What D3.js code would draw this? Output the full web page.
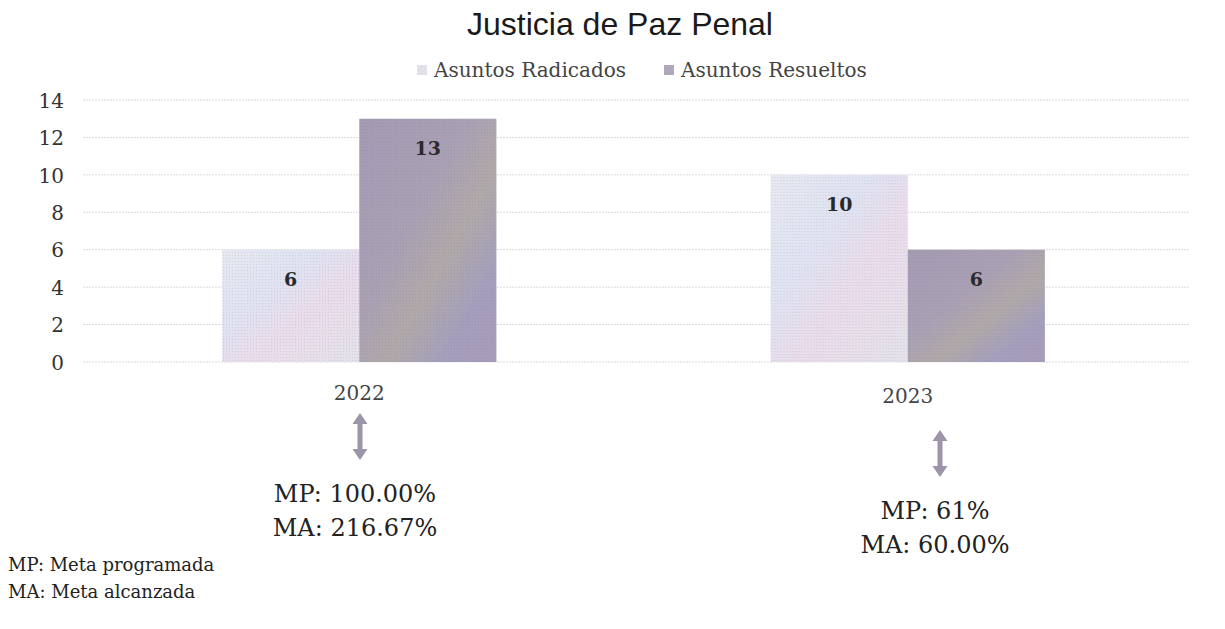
<!DOCTYPE html>
<html>
<head>
<meta charset="utf-8">
<script src="https://cdn.jsdelivr.net/npm/d3@7"></script>
<style>
  body { margin: 0; background: #fff; }
  svg { display: block; }
  .serif { font-family: "DejaVu Serif", serif; }
  .tick-label { font-family: "DejaVu Serif", serif; font-size: 20px; fill: #333; }
  .grid line { stroke: #dadada; stroke-dasharray: 2 1; }
</style>
</head>
<body>
<svg id="chart" width="1225" height="629"></svg>
<script>
const categories = ["2022", "2023"];
const seriesNames = ["Asuntos Radicados", "Asuntos Resueltos"];
const radicados = [6, 10];
const resueltos = [13, 6];
const mpLabels = ["MP: 100.00%", "MP: 61%"];
const maLabels = ["MA: 216.67%", "MA: 60.00%"];
const yTicks = [0, 2, 4, 6, 8, 10, 12, 14];
const notes = ["MP: Meta programada", "MA: Meta alcanzada"];

// where the annotation boxes sit (they are loose text boxes in the original)
const annX = [355, 935];
const arrowTop = [413, 430];
const mpBase = [502, 519];

const svg = d3.select("#chart");
const defs = svg.append("defs");

function addGradient(id, stops) {
  const g = defs.append("linearGradient").attr("id", id)
    .attr("x1", "0%").attr("y1", "0%").attr("x2", "100%").attr("y2", "100%");
  stops.forEach(([o, c]) => g.append("stop").attr("offset", o).attr("stop-color", c));
}
addGradient("gradRad", [["0%", "#e6e9f0"], ["35%", "#dfe3f2"], ["60%", "#eadcea"], ["100%", "#e3e2ea"]]);
addGradient("gradRes", [["0%", "#a39bb3"], ["40%", "#a9a0b4"], ["60%", "#b0a9a8"], ["80%", "#a59fbd"], ["100%", "#a89cb8"]]);

// dotted texture on top of bars, like the scan
const pat = defs.append("pattern").attr("id", "dots")
  .attr("width", 3).attr("height", 3).attr("patternUnits", "userSpaceOnUse");
pat.append("rect").attr("width", 1).attr("height", 1).attr("fill", "rgba(120,110,140,0.18)");

const y = d3.scaleLinear().domain([0, 14]).range([362, 100]);
const x0 = d3.scaleBand().domain(categories).range([85, 1182]).padding(0);
const bw = x0.bandwidth();
const x1 = d3.scaleBand().domain(seriesNames).range([bw * 0.25, bw * 0.75]).padding(0);
const fills = { "Asuntos Radicados": "url(#gradRad)", "Asuntos Resueltos": "url(#gradRes)" };

// title
svg.append("text")
  .attr("x", 620).attr("y", 35)
  .attr("text-anchor", "middle")
  .style("font-family", "Liberation Sans, Arial, sans-serif")
  .style("font-size", "32px").style("fill", "#1a1a1a")
  .text("Justicia de Paz Penal");

// legend
const legend = svg.append("g").attr("class", "serif").style("font-size", "20px");
const legendX = [417, 664];
seriesNames.forEach((name, i) => {
  legend.append("rect").attr("x", legendX[i]).attr("y", 65).attr("width", 10).attr("height", 10)
    .attr("fill", i === 0 ? "#e4e0ea" : "#b0a8ba");
  legend.append("text").attr("x", legendX[i] + 17).attr("y", 77).style("fill", "#444").text(name);
});

// gridlines
svg.append("g").attr("class", "grid")
  .selectAll("line").data(yTicks).join("line")
  .attr("x1", 83).attr("x2", 1190)
  .attr("y1", d => y(d)).attr("y2", d => y(d));

// y axis labels
const yAxis = d3.axisLeft(y).tickValues(yTicks).tickSize(0).tickPadding(0);
const gy = svg.append("g").attr("transform", "translate(64,0)").call(yAxis);
gy.select(".domain").remove();
gy.selectAll("text").attr("class", "tick-label").attr("dy", "0.36em");

// bars
const rows = categories.map((c, i) => ({ cat: c, values: [radicados[i], resueltos[i]] }));
const groups = svg.append("g").selectAll("g").data(rows).join("g")
  .attr("transform", d => `translate(${x0(d.cat)},0)`);

const barData = d => seriesNames.map((s, j) => ({ s, v: d.values[j] }));
groups.selectAll("rect.bar").data(barData).join("rect")
  .attr("class", "bar")
  .attr("x", d => x1(d.s)).attr("width", x1.bandwidth())
  .attr("y", d => y(d.v)).attr("height", d => y(0) - y(d.v))
  .attr("fill", d => fills[d.s]);
groups.selectAll("rect.tex").data(barData).join("rect")
  .attr("class", "tex")
  .attr("x", d => x1(d.s)).attr("width", x1.bandwidth())
  .attr("y", d => y(d.v)).attr("height", d => y(0) - y(d.v))
  .attr("fill", "url(#dots)");

// value labels
groups.selectAll("text.val").data(barData).join("text")
  .attr("class", "val serif")
  .attr("x", d => x1(d.s) + x1.bandwidth() / 2)
  .attr("y", d => y(d.v) + 36)
  .attr("text-anchor", "middle")
  .style("font-size", "19px")
  .style("font-weight", "bold").style("fill", "#2a2a2a")
  .text(d => d.v);

// category labels
groups.append("text")
  .attr("class", "serif")
  .attr("x", bw / 2).attr("y", (d, i) => 400 + i * 3)
  .attr("text-anchor", "middle")
  .style("font-size", "20px").style("fill", "#444")
  .text(d => d.cat);

// annotations below the axis
const ann = svg.append("g").selectAll("g").data(categories).join("g")
  .attr("transform", (d, i) => `translate(${annX[i]},0)`);

ann.append("path")
  .attr("transform", (d, i) => `translate(5,${arrowTop[i]})`)
  .attr("d", "M0,0 L7.5,11 L2.5,11 L2.5,36 L7.5,36 L0,47 L-7.5,36 L-2.5,36 L-2.5,11 L-7.5,11 Z")
  .attr("fill", "#9c94a8");

ann.append("text")
  .attr("class", "serif")
  .attr("y", (d, i) => mpBase[i])
  .attr("text-anchor", "middle")
  .style("font-size", "24px").style("fill", "#222")
  .text((d, i) => mpLabels[i]);
ann.append("text")
  .attr("class", "serif")
  .attr("y", (d, i) => mpBase[i] + 34)
  .attr("text-anchor", "middle")
  .style("font-size", "24px").style("fill", "#222")
  .text((d, i) => maLabels[i]);

// footnotes
svg.append("g").selectAll("text").data(notes).join("text")
  .attr("class", "serif")
  .attr("x", 8).attr("y", (d, i) => 571 + i * 27)
  .style("font-size", "18px").style("fill", "#222")
  .text(d => d);
</script>
</body>
</html>
